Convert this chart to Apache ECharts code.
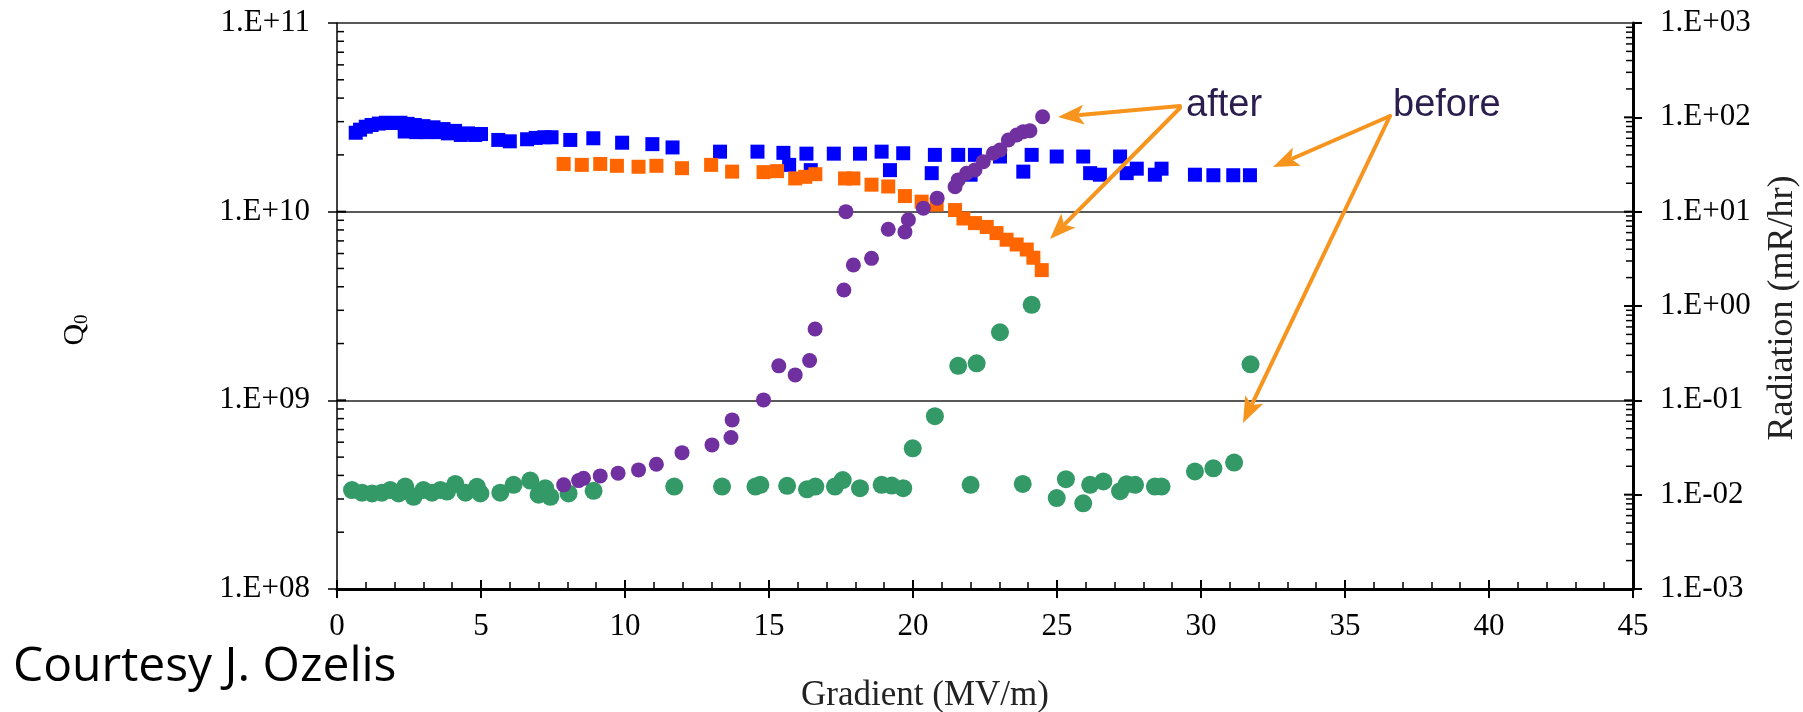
<!DOCTYPE html>
<html>
<head>
<meta charset="utf-8">
<script src="https://cdn.jsdelivr.net/npm/echarts@6/dist/echarts.min.js"></script>
<style>
  html, body { margin: 0; padding: 0; background: #ffffff; }
  #chart { width: 1803px; height: 712px; }
</style>
</head>
<body>
<div id="chart"></div>
<script>
// Q0 versus accelerating gradient, before and after treatment (left, log axis)
const q0Before = [
  [0.65, 2.62e10], [0.8, 2.72e10], [1.0, 2.82e10], [1.2, 2.88e10], [1.45, 2.93e10],
  [1.7, 2.96e10], [1.95, 2.95e10], [2.2, 2.96e10], [2.45, 2.92e10], [2.35, 2.66e10],
  [2.7, 2.88e10], [2.75, 2.64e10], [3.0, 2.84e10], [3.1, 2.64e10], [3.35, 2.8e10],
  [3.5, 2.64e10], [3.7, 2.74e10], [3.85, 2.6e10], [4.1, 2.68e10], [4.3, 2.55e10],
  [4.55, 2.6e10], [4.8, 2.55e10], [5.0, 2.58e10], [5.6, 2.4e10], [6.0, 2.36e10],
  [6.6, 2.42e10], [6.9, 2.46e10], [7.2, 2.48e10], [7.45, 2.48e10], [8.1, 2.4e10],
  [8.9, 2.45e10], [9.9, 2.32e10], [10.95, 2.28e10], [11.65, 2.19e10], [13.3, 2.08e10],
  [14.6, 2.08e10], [15.5, 2.05e10], [15.7, 1.77e10], [16.3, 2.03e10], [16.45, 1.66e10],
  [17.25, 2.03e10], [18.16, 2.03e10], [18.91, 2.08e10], [19.2, 1.66e10], [19.66, 2.04e10],
  [20.65, 1.6e10], [20.76, 2.0e10], [21.57, 2.0e10], [22.0, 1.57e10], [22.15, 2.0e10],
  [23.02, 1.96e10], [23.83, 1.63e10], [24.12, 2.0e10], [24.99, 1.96e10], [25.91, 1.96e10],
  [26.15, 1.6e10], [26.49, 1.57e10], [27.19, 1.96e10], [27.42, 1.6e10], [27.77, 1.69e10],
  [28.4, 1.57e10], [28.63, 1.69e10], [29.79, 1.57e10], [30.43, 1.56e10], [31.12, 1.56e10],
  [31.7, 1.56e10]
];

const q0After = [
  [7.87, 1.79e10], [8.5, 1.77e10], [9.14, 1.79e10], [9.72, 1.75e10], [10.47, 1.73e10],
  [11.09, 1.75e10], [11.98, 1.7e10], [12.99, 1.77e10], [13.72, 1.63e10], [14.81, 1.62e10],
  [15.28, 1.64e10], [15.91, 1.5e10], [16.26, 1.53e10], [16.61, 1.58e10], [17.64, 1.5e10],
  [17.93, 1.5e10], [18.56, 1.39e10], [19.14, 1.36e10], [19.72, 1.21e10], [20.3, 1.13e10],
  [20.82, 1.09e10], [21.46, 1.02e10], [21.75, 9.2e9], [22.15, 8.7e9], [22.56, 8.3e9],
  [22.9, 7.7e9], [23.25, 7.1e9], [23.6, 6.7e9], [23.95, 6.3e9], [24.18, 5.7e9],
  [24.47, 4.9e9]
];

// Radiation (mR/hr) versus gradient (right, log axis)
const radBefore = [
  [0.52, 0.0112], [0.87, 0.0105], [1.22, 0.0103], [1.56, 0.0105], [1.85, 0.0112],
  [2.14, 0.0103], [2.37, 0.0122], [2.66, 0.0095], [3.0, 0.0112], [3.3, 0.0105],
  [3.59, 0.0112], [3.82, 0.0108], [4.11, 0.013], [4.46, 0.0105], [4.86, 0.0121],
  [4.98, 0.0103], [5.67, 0.0105], [6.13, 0.0127], [6.71, 0.0141], [7.0, 0.01],
  [7.23, 0.0117], [7.41, 0.0095], [8.04, 0.0103], [8.91, 0.011], [11.71, 0.0122],
  [13.37, 0.0122], [14.53, 0.0122], [14.7, 0.0127], [15.63, 0.0124], [16.32, 0.0114],
  [16.61, 0.0122], [17.29, 0.0122], [17.56, 0.0143], [18.16, 0.0117], [18.91, 0.0127],
  [19.26, 0.0125], [19.66, 0.0117], [19.99, 0.031], [20.76, 0.068], [21.57, 0.232],
  [22.0, 0.0127], [22.21, 0.247], [23.02, 0.527], [23.81, 0.013], [24.12, 1.03],
  [24.99, 0.0092], [25.31, 0.0146], [25.91, 0.0081], [26.15, 0.0127], [26.61, 0.0138],
  [27.19, 0.0109], [27.42, 0.0129], [27.71, 0.0127], [28.4, 0.0122], [28.63, 0.0122],
  [29.79, 0.0176], [30.43, 0.019], [31.15, 0.0219], [31.72, 0.241]
];

const radAfter = [
  [7.87, 0.0127], [8.39, 0.0141], [8.56, 0.0149], [9.14, 0.0158], [9.76, 0.0169],
  [10.47, 0.0183], [11.09, 0.021], [11.98, 0.0279], [13.02, 0.0337], [13.68, 0.0403],
  [13.72, 0.062], [14.81, 0.101], [15.34, 0.232], [15.91, 0.186], [16.41, 0.264],
  [16.6, 0.57], [17.6, 1.48], [17.67, 10.0], [17.93, 2.72], [18.56, 3.2],
  [19.14, 6.5], [19.72, 6.1], [19.84, 8.2], [20.36, 10.9], [20.84, 13.9],
  [21.46, 18.4], [21.57, 21.7], [21.86, 25.5], [22.15, 27.7], [22.44, 33.9],
  [22.79, 41.6], [23.02, 45], [23.31, 57.5], [23.6, 65], [23.83, 70.5],
  [24.06, 72], [24.5, 101.6]
];

// Axis ranges and decade tick positions
const gradientRange = [0, 45];
const q0Decades = [1e8, 1e9, 1e10];
const radDecades = [1e-3, 1e-2, 1e-1, 1, 10, 100];
const minorSteps = [2, 3, 4, 5, 6, 7, 8, 9];

const serif = 'Liberation Serif';
const arrowColor = '#F7941D';
const noteColor = '#2B1E4E';

function expLabel(v) {
  const e = Math.round(Math.log10(v));
  return '1.E' + (e < 0 ? '-' : '+') + String(Math.abs(e)).padStart(2, '0');
}

// Minor (2..9) ticks on a log axis, drawn inward from the axis line
function logTickSeries(decades, yAxisIndex, xEdge, dir) {
  return {
    type: 'custom',
    xAxisIndex: 0,
    yAxisIndex: yAxisIndex,
    silent: true,
    clip: false,
    z: 5,
    data: decades.map(d => [xEdge, d]),
    renderItem(params, api) {
      const d = decades[params.dataIndex];
      const children = [];
      const base = api.coord([xEdge, d]);
      children.push({
        type: 'line',
        shape: { x1: base[0], y1: base[1], x2: base[0] + dir * 9, y2: base[1] },
        style: { stroke: '#000', lineWidth: 2 }
      });
      minorSteps.forEach(m => {
        const p = api.coord([xEdge, d * m]);
        children.push({
          type: 'line',
          shape: { x1: p[0], y1: p[1], x2: p[0] + dir * 7, y2: p[1] },
          style: { stroke: '#000', lineWidth: 1.5 }
        });
      });
      return { type: 'group', children };
    }
  };
}

// Annotation arrow: shaft plus triangular head at the tip
function arrow(x1, y1, x2, y2) {
  const len = Math.hypot(x2 - x1, y2 - y1);
  const ux = (x2 - x1) / len, uy = (y2 - y1) / len;
  const headLen = 26, headHalf = 10;
  const bx = x2 - ux * headLen, by = y2 - uy * headLen;
  return [
    {
      type: 'line', z: 20,
      shape: { x1: x1, y1: y1, x2: bx + ux * 4, y2: by + uy * 4 },
      style: { stroke: arrowColor, lineWidth: 4, lineCap: 'round' }
    },
    {
      type: 'polygon', z: 20,
      shape: {
        points: [
          [x2, y2],
          [bx - uy * headHalf, by + ux * headHalf],
          [bx + ux * 6, by + uy * 6],
          [bx + uy * headHalf, by - ux * headHalf]
        ]
      },
      style: { fill: arrowColor }
    }
  ];
}

const chart = echarts.init(document.getElementById('chart'), null, { renderer: 'canvas' });

const option = {
  animation: false,
  backgroundColor: '#ffffff',
  grid: { left: 337, right: 170, top: 23, bottom: 123, containLabel: false },
  xAxis: [
    {
      type: 'value',
      min: gradientRange[0], max: gradientRange[1], interval: 5,
      position: 'bottom',
      axisLine: { show: true, onZero: false, lineStyle: { color: '#000', width: 3 } },
      axisTick: { show: true, inside: false, length: 9, lineStyle: { color: '#000', width: 2 } },
      minorTick: { show: false },
      splitLine: { show: false },
      axisLabel: {
        show: true, margin: 22, color: '#000',
        fontFamily: serif, fontSize: 31
      }
    },
    {
      type: 'value',
      min: gradientRange[0], max: gradientRange[1], interval: 5,
      position: 'bottom', offset: 0,
      axisLine: { show: false },
      axisTick: { show: true, inside: true, length: 9, lineStyle: { color: '#000', width: 2 } },
      minorTick: { show: true, splitNumber: 5, length: 7, lineStyle: { color: '#000', width: 1.5 } },
      splitLine: { show: false },
      axisLabel: { show: false }
    }
  ],
  yAxis: [
    {
      type: 'log', logBase: 10, min: 1e8, max: 1e11, splitNumber: 3,
      position: 'left',
      axisLine: { show: true, onZero: false, lineStyle: { color: '#000', width: 1.5 } },
      axisTick: { show: true, inside: false, length: 9, lineStyle: { color: '#000', width: 1.5 } },
      splitLine: { show: true, lineStyle: { color: '#222', width: 1.5 } },
      axisLabel: {
        show: true, margin: 27, color: '#000',
        fontFamily: serif, fontSize: 31,
        formatter: expLabel
      }
    },
    {
      type: 'log', logBase: 10, min: 1e-3, max: 1e3, splitNumber: 6,
      position: 'right',
      axisLine: { show: true, onZero: false, lineStyle: { color: '#000', width: 3 } },
      axisTick: { show: true, inside: false, length: 9, lineStyle: { color: '#000', width: 2 } },
      splitLine: { show: false },
      axisLabel: {
        show: true, margin: 27, color: '#000',
        fontFamily: serif, fontSize: 31,
        formatter: expLabel
      }
    }
  ],
  series: [
    {
      name: 'Q0 before', type: 'scatter', xAxisIndex: 0, yAxisIndex: 0,
      symbol: 'rect', symbolSize: 14, z: 2,
      itemStyle: { color: '#0000FF', opacity: 1 },
      data: q0Before
    },
    {
      name: 'Q0 after', type: 'scatter', xAxisIndex: 0, yAxisIndex: 0,
      symbol: 'rect', symbolSize: 14, z: 3,
      itemStyle: { color: '#FF6600', opacity: 1 },
      data: q0After
    },
    {
      name: 'Radiation before', type: 'scatter', xAxisIndex: 0, yAxisIndex: 1,
      symbol: 'circle', symbolSize: 18, z: 4,
      itemStyle: { color: '#339966', opacity: 1 },
      data: radBefore
    },
    {
      name: 'Radiation after', type: 'scatter', xAxisIndex: 0, yAxisIndex: 1,
      symbol: 'circle', symbolSize: 15, z: 5,
      itemStyle: { color: '#7030A0', opacity: 1 },
      data: radAfter
    },
    logTickSeries(q0Decades, 0, gradientRange[0], 1),
    logTickSeries(radDecades, 1, gradientRange[1], -1)
  ],
  graphic: [
    {
      type: 'text', x: 75, y: 330, rotation: Math.PI / 2, z: 10,
      style: {
        text: '{q|Q}{s|0}',
        align: 'center', verticalAlign: 'middle',
        rich: {
          q: { fontFamily: serif, fontSize: 30, fill: '#000' },
          s: { fontFamily: serif, fontSize: 19, fill: '#000', padding: [14, 0, 0, 0] }
        }
      }
    },
    {
      type: 'text', x: 1783, y: 308, rotation: Math.PI / 2, z: 10,
      style: {
        text: 'Radiation (mR/hr)',
        font: '36px "Liberation Serif"',
        fill: '#222',
        align: 'center', verticalAlign: 'middle'
      }
    },
    {
      type: 'text', x: 925, y: 696, z: 10,
      style: {
        text: 'Gradient (MV/m)',
        font: '35px "Liberation Serif"',
        fill: '#222',
        align: 'center', verticalAlign: 'middle'
      }
    },
    {
      type: 'text', x: 13, y: 667, z: 10,
      style: {
        text: 'Courtesy J. Ozelis',
        font: '48px "Open Sans"',
        fill: '#000',
        align: 'left', verticalAlign: 'middle'
      }
    },
    {
      type: 'text', x: 1186, y: 106, z: 21,
      style: {
        text: 'after',
        font: '38px "Liberation Sans"',
        fill: noteColor,
        align: 'left', verticalAlign: 'middle'
      }
    },
    {
      type: 'text', x: 1393, y: 106, z: 21,
      style: {
        text: 'before',
        font: '38px "Liberation Sans"',
        fill: noteColor,
        align: 'left', verticalAlign: 'middle'
      }
    },
    ...arrow(1180, 106, 1058, 117),
    ...arrow(1180, 108, 1050, 239),
    ...arrow(1390, 116, 1273, 167),
    ...arrow(1390, 116, 1243, 423)
  ]
};

chart.setOption(option);
</script>
</body>
</html>
